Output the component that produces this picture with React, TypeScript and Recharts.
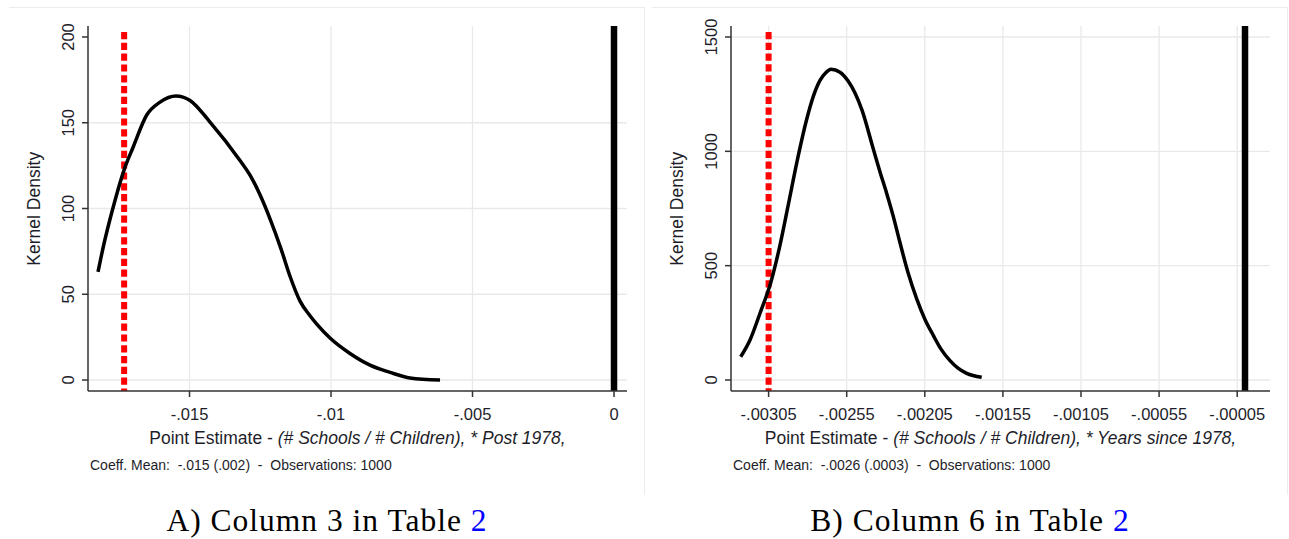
import {
  CartesianGrid,
  ComposedChart,
  Line,
  ReferenceLine,
  XAxis,
  YAxis,
} from "recharts";

// Panel A: coefficient on (# Schools / # Children) * Post 1978
const densityAX = [
  -0.018233, -0.018046, -0.017693, -0.017314, -0.016986, -0.016512, -0.016042,
  -0.015477, -0.014982, -0.014276, -0.013216, -0.012862, -0.012509, -0.012155,
  -0.011767, -0.011449, -0.011095, -0.010742, -0.010495, -0.010035, -0.009329,
  -0.008622, -0.007915, -0.007208, -0.006148,
];
const densityAY = [
  63, 77.7, 101, 122.4, 136, 154.5, 162, 165.6, 163, 150.4, 128, 119.5, 108,
  94, 76.5, 60.5, 46, 37.5, 32.5, 24.5, 15.5, 8.7, 4.5, 1.2, 0,
];
const xTicksA = [-0.015, -0.01, -0.005, 0];
const xTickLabelsA = ["-.015", "-.01", "-.005", "0"];
const yTicksA = [0, 50, 100, 150, 200];
const yGridA = [0, 50, 100, 150];
const redLineA = -0.01731;

// Panel B: coefficient on (# Schools / # Children) * Years since 1978
const densityBX = [
  -0.0032286, -0.003169, -0.003105, -0.0030346, -0.002977, -0.0029257,
  -0.0028681, -0.002806, -0.0027638, -0.0027209, -0.0026825, -0.0026504,
  -0.0025928, -0.0025397, -0.0024968, -0.0024520, -0.0023796, -0.0023367,
  -0.0022939, -0.0022535, -0.0022087, -0.0021575, -0.0021018, -0.0020487,
  -0.0019955, -0.0019462, -0.0018886, -0.0018374, -0.0017817, -0.0016857,
];
const densityBY = [
  102, 175, 292, 430, 590, 760, 955, 1140, 1240, 1310, 1345, 1359, 1346, 1306,
  1255, 1180, 1010, 910, 816, 720, 600, 470, 355, 265, 195, 135, 85, 52, 29, 12,
];
const xTicksB = [
  -0.00305, -0.00255, -0.00205, -0.00155, -0.00105, -0.00055, -0.00005,
];
const xTickLabelsB = [
  "-.00305", "-.00255", "-.00205", "-.00155", "-.00105", "-.00055", "-.00005",
];
const yTicksB = [0, 500, 1000, 1500];
const redLineB = -0.00305;

const SANS = "'Liberation Sans', Arial, sans-serif";
const SERIF = "'Liberation Serif', 'Times New Roman', serif";
const AXIS = "#333333";
const GRID = "#e9e9e9";
const TEXT = "#1e1e2a";

interface PanelProps {
  left: number;
  width: number;
  yAxisWidth: number;
  marginRight: number;
  xs: number[];
  ys: number[];
  xDomain: [number, number];
  yDomain: [number, number];
  xTicks: number[];
  xTickLabels: string[];
  yTicks: number[];
  yGrid: number[];
  redX: number;
  redTop: number;
}

function Panel(p: PanelProps) {
  const data = p.xs.map((x, i) => ({ x, y: p.ys[i] }));

  const xTick = (props: any) => {
    const { x, y, payload } = props;
    const i = p.xTicks.findIndex((t) => Math.abs(t - payload.value) < 1e-9);
    return (
      <text
        x={x}
        y={y + 21}
        textAnchor="middle"
        fontSize={16.5}
        fontFamily={SANS}
        fill={TEXT}
      >
        {i >= 0 ? p.xTickLabels[i] : payload.value}
      </text>
    );
  };

  const yTick = (props: any) => {
    const { x, y, payload } = props;
    const bx = x - 6;
    return (
      <text
        x={bx}
        y={y}
        transform={`rotate(-90, ${bx}, ${y})`}
        textAnchor="middle"
        fontSize={16.5}
        fontFamily={SANS}
        fill={TEXT}
      >
        {payload.value}
      </text>
    );
  };

  return (
    <div style={{ position: "absolute", left: p.left, top: 0 }}>
      <ComposedChart
        width={p.width}
        height={495}
        data={data}
        margin={{ top: 26, right: p.marginRight, bottom: 0, left: 0 }}
      >
        <CartesianGrid
          stroke={GRID}
          strokeWidth={1.3}
          horizontalValues={p.yGrid}
          verticalValues={p.xTicks}
        />
        <XAxis
          type="number"
          dataKey="x"
          domain={p.xDomain}
          ticks={p.xTicks}
          interval={0}
          allowDataOverflow
          height={104}
          tickSize={6}
          tickMargin={2}
          axisLine={{ stroke: AXIS, strokeWidth: 1.5 }}
          tickLine={{ stroke: AXIS, strokeWidth: 1.5 }}
          tick={xTick}
        />
        <YAxis
          type="number"
          domain={p.yDomain}
          ticks={p.yTicks}
          interval={0}
          allowDataOverflow
          width={p.yAxisWidth}
          tickSize={6}
          tickMargin={2}
          axisLine={{ stroke: AXIS, strokeWidth: 1.5 }}
          tickLine={{ stroke: AXIS, strokeWidth: 1.5 }}
          tick={yTick}
        />
        <ReferenceLine
          segment={[
            { x: p.redX, y: p.redTop },
            { x: p.redX, y: p.yDomain[0] },
          ]}
          stroke="#ff0000"
          strokeWidth={6}
          strokeDasharray="7.2 3.6"
        />
        <ReferenceLine x={0} stroke="#000000" strokeWidth={6.5} />
        <Line
          dataKey="y"
          type="monotone"
          stroke="#000000"
          strokeWidth={3.5}
          dot={false}
          isAnimationActive={false}
        />
      </ComposedChart>
    </div>
  );
}

function Texts({
  plotLeft,
  frameLeft,
  yTitleX,
  italic,
  note,
  caption,
}: {
  plotLeft: number;
  frameLeft: number;
  yTitleX: number;
  italic: string;
  note: string;
  caption: string;
}) {
  return (
    <>
      <div
        style={{
          position: "absolute",
          left: frameLeft,
          top: 7,
          width: 636,
          height: 488,
          borderTop: "1.5px solid #ececec",
          borderRight: "1.5px solid #ececec",
          boxSizing: "border-box",
        }}
      />
      <div
        style={{
          position: "absolute",
          left: yTitleX - 100,
          top: 208.5 - 8.75,
          width: 200,
          height: 17.5,
          lineHeight: "17.5px",
          fontSize: 17.5,
          fontFamily: SANS,
          color: TEXT,
          textAlign: "center",
          transform: "rotate(-90deg)",
          whiteSpace: "nowrap",
        }}
      >
        Kernel Density
      </div>
      <div
        style={{
          position: "absolute",
          left: plotLeft,
          top: 430,
          width: 539,
          lineHeight: "17.5px",
          fontSize: 17.5,
          fontFamily: SANS,
          color: TEXT,
          textAlign: "center",
          whiteSpace: "nowrap",
        }}
      >
        Point Estimate - <i>{italic}</i>
      </div>
      <div
        style={{
          position: "absolute",
          left: plotLeft + 2,
          top: 458,
          lineHeight: "14px",
          fontSize: 14,
          fontFamily: SANS,
          color: TEXT,
          whiteSpace: "pre",
        }}
      >
        {note}
      </div>
      <div
        style={{
          position: "absolute",
          left: frameLeft,
          top: 504.6,
          width: 636,
          lineHeight: "31.5px",
          fontSize: 31.5,
          fontFamily: SERIF,
          letterSpacing: 1,
          color: "#000",
          textAlign: "center",
          whiteSpace: "nowrap",
        }}
      >
        {caption} <span style={{ color: "#0000ff" }}>2</span>
      </div>
    </>
  );
}

export default function App() {
  return (
    <div
      style={{
        position: "absolute",
        left: 0,
        top: 0,
        width: 1289,
        height: 539,
        background: "#ffffff",
        overflow: "hidden",
      }}
    >
      <Panel
        left={0}
        width={645}
        yAxisWidth={88}
        marginRight={18}
        xs={densityAX}
        ys={densityAY}
        xDomain={[-0.018587, 0.000459]}
        yDomain={[-6.4, 206.4]}
        xTicks={xTicksA}
        xTickLabels={xTickLabelsA}
        yTicks={yTicksA}
        yGrid={yGridA}
        redX={redLineA}
        redTop={202.9}
      />
      <Panel
        left={645}
        width={644}
        yAxisWidth={86}
        marginRight={19}
        xs={densityBX}
        ys={densityBY}
        xDomain={[-0.0032907, 0.00016]}
        yDomain={[-48, 1548]}
        xTicks={xTicksB}
        xTickLabels={xTickLabelsB}
        yTicks={yTicksB}
        yGrid={yTicksB}
        redX={redLineB}
        redTop={1522}
      />
      <Texts
        plotLeft={88}
        frameLeft={9}
        yTitleX={35}
        italic="(# Schools / # Children), * Post 1978,"
        note={"Coeff. Mean:  -.015 (.002)  -  Observations: 1000"}
        caption="A) Column 3 in Table"
      />
      <Texts
        plotLeft={731}
        frameLeft={652}
        yTitleX={678}
        italic="(# Schools / # Children), * Years since 1978,"
        note={"Coeff. Mean:  -.0026 (.0003)  -  Observations: 1000"}
        caption="B) Column 6 in Table"
      />
    </div>
  );
}
